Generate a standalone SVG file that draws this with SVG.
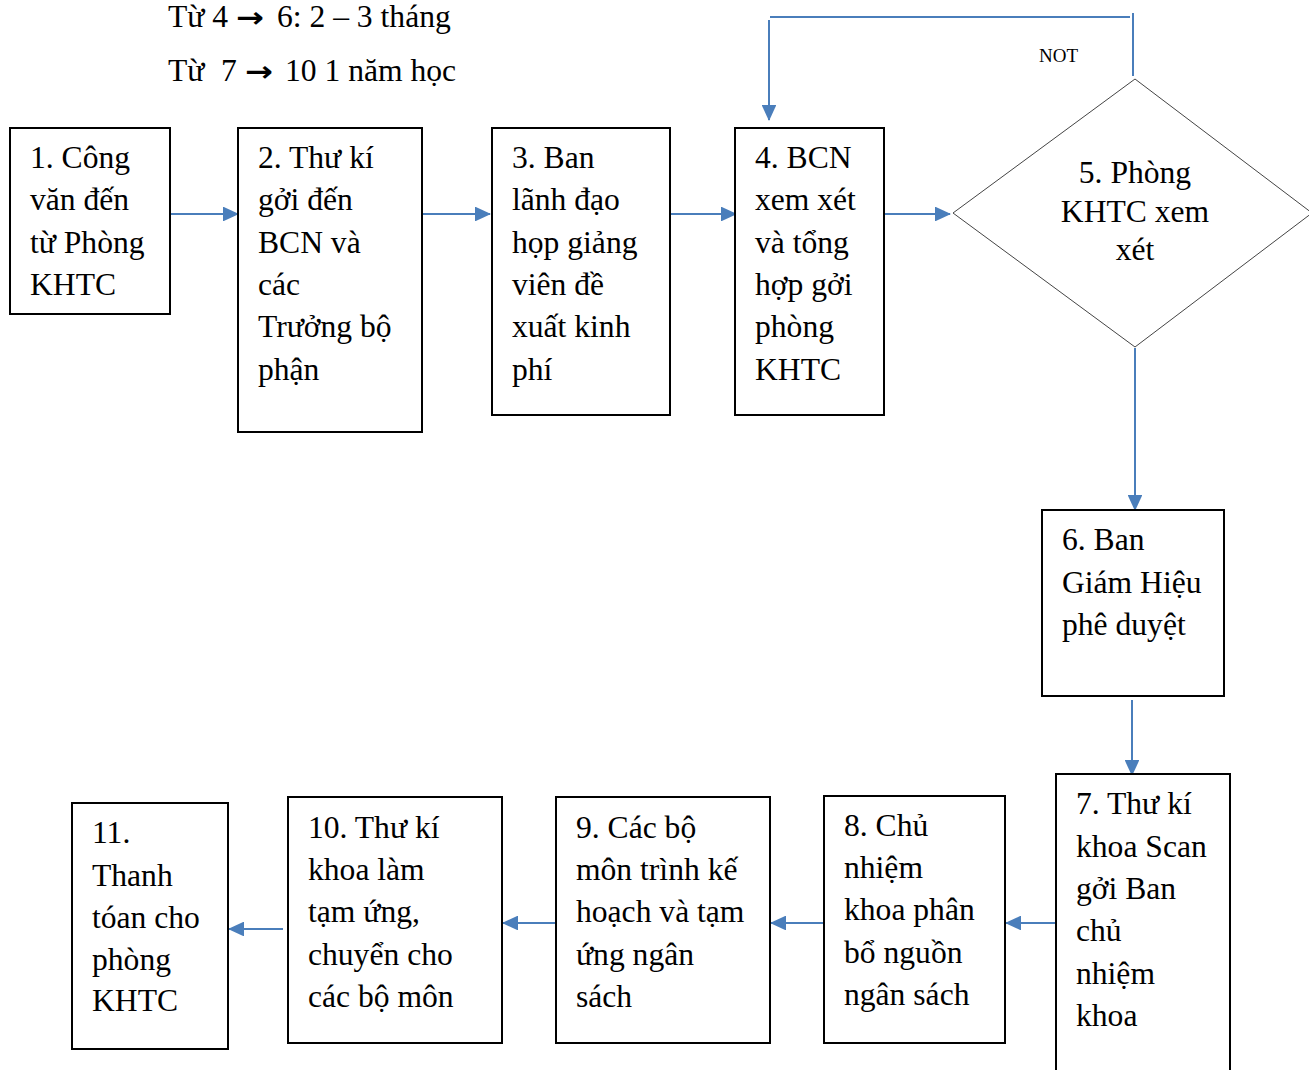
<svg xmlns="http://www.w3.org/2000/svg" width="1309" height="1070" viewBox="0 0 1309 1070">
  <style>
    .box { fill: #fff; stroke: #000; stroke-width: 2; }
    .dia { fill: #fff; stroke: #444; stroke-width: 1; }
    .t { font-family: "Liberation Serif", "Times New Roman", serif; font-size: 31.6px; fill: #000; }
    .note { font-family: "Liberation Serif", "Times New Roman", serif; font-size: 31.6px; fill: #000; }
    .arr { font-family: "DejaVu Sans", sans-serif; font-weight: bold; font-size: 28px; fill: #000; }
    .lbl { font-family: "Liberation Serif", "Times New Roman", serif; font-size: 19px; fill: #000; }
    .c { fill: none; stroke: #4a7ebb; stroke-width: 2; }
    .ca { fill: none; stroke: #4a7ebb; stroke-width: 2; marker-end: url(#ah); }
  </style>
  <defs>
    <marker id="ah" markerWidth="8" markerHeight="7.4" refX="7.5" refY="3.7" orient="auto" markerUnits="strokeWidth">
      <path d="M0,0 L8,3.7 L0,7.4 Z" fill="#4a7ebb"/>
    </marker>
  </defs>
  <rect width="1309" height="1070" fill="#fff"/>

  <!-- duration notes -->
  <g id="notes">
    <text class="note" x="168" y="27">Từ 4</text>
    <text class="arr" x="236" y="27" textLength="28" lengthAdjust="spacingAndGlyphs">→</text>
    <text class="note" x="277" y="27">6: 2 – 3 tháng</text>
    <text class="note" x="168" y="81">Từ</text>
    <text class="note" x="221" y="81">7</text>
    <text class="arr" x="245" y="81" textLength="28" lengthAdjust="spacingAndGlyphs">→</text>
    <text class="note" x="285" y="81">10 1 năm học</text>
  </g>

  <g id="connectors">
    <line class="ca" x1="171" y1="214" x2="238" y2="214"/>
    <line class="ca" x1="423" y1="214" x2="490" y2="214"/>
    <line class="ca" x1="671" y1="214" x2="736" y2="214"/>
    <line class="ca" x1="885" y1="214" x2="950" y2="214"/>
    <line class="ca" x1="1135" y1="348" x2="1135" y2="510"/>
    <line class="ca" x1="1132" y1="700" x2="1132" y2="775"/>
    <line class="ca" x1="1056" y1="923" x2="1006" y2="923"/>
    <line class="ca" x1="824" y1="923" x2="771" y2="923"/>
    <line class="ca" x1="556" y1="923" x2="503" y2="923"/>
    <line class="ca" x1="283" y1="929" x2="229" y2="929"/>
    <!-- NOT loop back to step 4 -->
    <line class="c" x1="1133" y1="13" x2="1133" y2="76"/>
    <line class="c" x1="770" y1="17" x2="1130" y2="17"/>
    <line class="ca" x1="769" y1="20" x2="769" y2="120"/>
    <text class="lbl" x="1039" y="62">NOT</text>
  </g>

  <g id="n1">
    <rect class="box" x="10" y="128" width="160" height="186"/>
    <text class="t" x="30" y="168">1. Công</text>
    <text class="t" x="30" y="210">văn đến</text>
    <text class="t" x="30" y="253">từ Phòng</text>
    <text class="t" x="30" y="295">KHTC</text>
  </g>
  <g id="n2">
    <rect class="box" x="238" y="128" width="184" height="304"/>
    <text class="t" x="258" y="168">2. Thư kí</text>
    <text class="t" x="258" y="210">gởi đến</text>
    <text class="t" x="258" y="253">BCN và</text>
    <text class="t" x="258" y="295">các</text>
    <text class="t" x="258" y="337">Trưởng bộ</text>
    <text class="t" x="258" y="380">phận</text>
  </g>
  <g id="n3">
    <rect class="box" x="492" y="128" width="178" height="287"/>
    <text class="t" x="512" y="168">3. Ban</text>
    <text class="t" x="512" y="210">lãnh đạo</text>
    <text class="t" x="512" y="253">họp giảng</text>
    <text class="t" x="512" y="295">viên đề</text>
    <text class="t" x="512" y="337">xuất kinh</text>
    <text class="t" x="512" y="380">phí</text>
  </g>
  <g id="n4">
    <rect class="box" x="735" y="128" width="149" height="287"/>
    <text class="t" x="755" y="168">4. BCN</text>
    <text class="t" x="755" y="210">xem xét</text>
    <text class="t" x="755" y="253">và tổng</text>
    <text class="t" x="755" y="295">hợp gởi</text>
    <text class="t" x="755" y="337">phòng</text>
    <text class="t" x="755" y="380">KHTC</text>
  </g>
  <g id="n5">
    <polygon class="dia" points="953,213 1135,79 1312,213 1135,347"/>
    <text class="t" x="1135" y="183" text-anchor="middle" font-size="29">5. Phòng</text>
    <text class="t" x="1135" y="222" text-anchor="middle" font-size="29">KHTC xem</text>
    <text class="t" x="1135" y="260" text-anchor="middle" font-size="29">xét</text>
  </g>
  <g id="n6">
    <rect class="box" x="1042" y="510" width="182" height="186"/>
    <text class="t" x="1062" y="550">6. Ban</text>
    <text class="t" x="1062" y="593">Giám Hiệu</text>
    <text class="t" x="1062" y="635">phê duyệt</text>
  </g>
  <g id="n7">
    <rect class="box" x="1056" y="774" width="174" height="310"/>
    <text class="t" x="1076" y="814">7. Thư kí</text>
    <text class="t" x="1076" y="857">khoa Scan</text>
    <text class="t" x="1076" y="899">gởi Ban</text>
    <text class="t" x="1076" y="941">chủ</text>
    <text class="t" x="1076" y="984">nhiệm</text>
    <text class="t" x="1076" y="1026">khoa</text>
  </g>
  <g id="n8">
    <rect class="box" x="824" y="796" width="181" height="247"/>
    <text class="t" x="844" y="836">8. Chủ</text>
    <text class="t" x="844" y="878">nhiệm</text>
    <text class="t" x="844" y="920">khoa phân</text>
    <text class="t" x="844" y="963">bổ nguồn</text>
    <text class="t" x="844" y="1005">ngân sách</text>
  </g>
  <g id="n9">
    <rect class="box" x="556" y="797" width="214" height="246"/>
    <text class="t" x="576" y="838">9. Các bộ</text>
    <text class="t" x="576" y="880">môn trình kế</text>
    <text class="t" x="576" y="922">hoạch và tạm</text>
    <text class="t" x="576" y="965">ứng ngân</text>
    <text class="t" x="576" y="1007">sách</text>
  </g>
  <g id="n10">
    <rect class="box" x="288" y="797" width="214" height="246"/>
    <text class="t" x="308" y="838">10. Thư kí</text>
    <text class="t" x="308" y="880">khoa làm</text>
    <text class="t" x="308" y="922">tạm ứng,</text>
    <text class="t" x="308" y="965">chuyển cho</text>
    <text class="t" x="308" y="1007">các bộ môn</text>
  </g>
  <g id="n11">
    <rect class="box" x="72" y="803" width="156" height="246"/>
    <text class="t" x="92" y="843">11.</text>
    <text class="t" x="92" y="886">Thanh</text>
    <text class="t" x="92" y="928">tóan cho</text>
    <text class="t" x="92" y="970">phòng</text>
    <text class="t" x="92" y="1011">KHTC</text>
  </g>
</svg>
